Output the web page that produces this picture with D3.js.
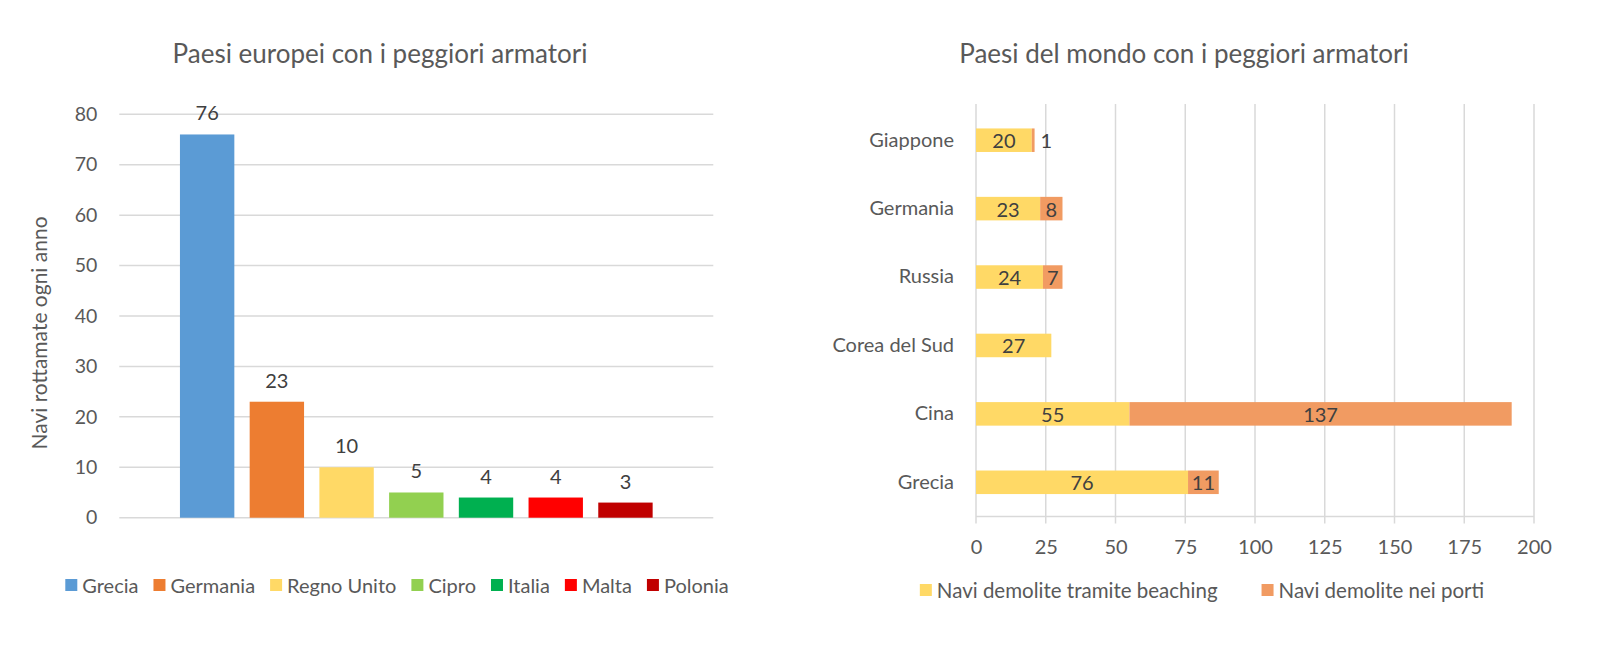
<!DOCTYPE html>
<html>
<head>
<meta charset="utf-8">
<script src="https://cdn.jsdelivr.net/npm/d3@7"></script>
<style>
  html, body { margin: 0; padding: 0; background: #ffffff; }
  svg { display: block; font-family: Lato, "Open Sans", sans-serif; }
</style>
</head>
<body>
<svg id="chart" width="1600" height="650"></svg>
<script>
// ---------- Data: left chart ----------
const euTitle = "Paesi europei con i peggiori armatori";
const euAxisTitle = "Navi rottamate ogni anno";
const euCountries = ["Grecia", "Germania", "Regno Unito", "Cipro", "Italia", "Malta", "Polonia"];
const euValues = [76, 23, 10, 5, 4, 4, 3];
const euColors = ["#5B9BD5", "#ED7D31", "#FFD966", "#92D050", "#00B050", "#FF0000", "#C00000"];
const euTicks = [0, 10, 20, 30, 40, 50, 60, 70, 80];

// ---------- Data: right chart ----------
const wTitle = "Paesi del mondo con i peggiori armatori";
const wCountries = ["Giappone", "Germania", "Russia", "Corea del Sud", "Cina", "Grecia"];
const wBeaching = [20, 23, 24, 27, 55, 76];
const wPorti = [1, 8, 7, 0, 137, 11];
const wSeriesNames = ["Navi demolite tramite beaching", "Navi demolite nei porti"];
const wColors = ["#FFD966", "#F19B62"];
const wTicks = [0, 25, 50, 75, 100, 125, 150, 175, 200];

const svg = d3.select("#chart");
const textColor = "#595959";
const labelColor = "#404040";
const gridColor = "#D9D9D9";

// ================= LEFT CHART =================
const L = { x0: 119.3, x1: 713.3, y0: 517.7, y1: 114.3 };
const ly = d3.scaleLinear().domain([0, 80]).range([L.y0, L.y1]);
const lx = d3.scaleBand().domain(euCountries).range([L.x0, L.x1])
  .paddingInner(0.22).paddingOuter(0.87);

const gL = svg.append("g");
gL.append("text").attr("x", 380).attr("y", 53)
  .attr("text-anchor", "middle").attr("dominant-baseline", "central")
  .attr("fill", textColor).style("font-size", "26px").text(euTitle);

// grid
gL.append("g").selectAll("line").data(euTicks).join("line")
  .attr("x1", L.x0).attr("x2", L.x1)
  .attr("y1", d => ly(d)).attr("y2", d => ly(d))
  .attr("stroke", gridColor).attr("stroke-width", 1.5);

// y axis labels
const yAxisL = d3.axisLeft(ly).tickValues(euTicks).tickSize(0).tickPadding(0);
const gyL = gL.append("g").attr("transform", `translate(${L.x0 - 22},0)`).call(yAxisL);
gyL.select(".domain").remove();
gyL.selectAll("text").attr("fill", textColor).style("font-size", "19.5px")
  .style("font-family", "Lato, sans-serif");

// axis title
gL.append("text").attr("transform", `translate(38,333) rotate(-90)`)
  .attr("text-anchor", "middle").attr("dominant-baseline", "central")
  .attr("fill", textColor).style("font-size", "21px").text(euAxisTitle);

// bars
gL.append("g").selectAll("rect").data(euCountries).join("rect")
  .attr("x", d => lx(d)).attr("width", lx.bandwidth())
  .attr("y", (d, i) => ly(euValues[i]))
  .attr("height", (d, i) => ly(0) - ly(euValues[i]))
  .attr("fill", (d, i) => euColors[i]);

// data labels
gL.append("g").selectAll("text").data(euCountries).join("text")
  .attr("x", d => lx(d) + lx.bandwidth() / 2)
  .attr("y", (d, i) => ly(euValues[i]) - 22)
  .attr("text-anchor", "middle").attr("dominant-baseline", "central")
  .attr("fill", labelColor).style("font-size", "20px")
  .text((d, i) => euValues[i]);

// legend helper
function drawLegend(g, names, colors, centerX, cy, itemGap, fontSize) {
  const lg = g.append("g");
  const items = names.map((n, i) => {
    const it = lg.append("g");
    it.append("rect").attr("width", 12).attr("height", 12).attr("y", -6).attr("fill", colors[i]);
    const t = it.append("text").attr("x", 17).attr("dominant-baseline", "central")
      .attr("fill", textColor).style("font-size", fontSize + "px").text(n);
    return { it, w: 17 + t.node().getComputedTextLength() };
  });
  const total = d3.sum(items, d => d.w) + itemGap * (items.length - 1);
  let x = centerX - total / 2;
  items.forEach(d => { d.it.attr("transform", `translate(${x},${cy})`); x += d.w + itemGap; });
}
drawLegend(gL, euCountries, euColors, 397, 585, 15, 20);

// ================= RIGHT CHART =================
const R = { x0: 976, x1: 1534, y0: 106, y1: 516.5 };
const rx = d3.scaleLinear().domain([0, 200]).range([R.x0, R.x1]);
const ry = d3.scaleBand().domain(wCountries).range([R.y0, R.y1])
  .paddingInner(0.656).paddingOuter(0.328);

const gR = svg.append("g");
gR.append("text").attr("x", 1184).attr("y", 53)
  .attr("text-anchor", "middle").attr("dominant-baseline", "central")
  .attr("fill", textColor).style("font-size", "26px").text(wTitle);

// vertical grid
gR.append("g").selectAll("line").data(wTicks).join("line")
  .attr("x1", d => rx(d)).attr("x2", d => rx(d))
  .attr("y1", 104).attr("y2", R.y1 + 7)
  .attr("stroke", gridColor).attr("stroke-width", 1.5);
// baseline
gR.append("line").attr("x1", R.x0).attr("x2", R.x1).attr("y1", R.y1).attr("y2", R.y1)
  .attr("stroke", gridColor).attr("stroke-width", 1.5);

// x axis labels
const xAxisR = d3.axisBottom(rx).tickValues(wTicks).tickSize(0).tickPadding(0);
const gxR = gR.append("g").attr("transform", `translate(0,${R.y1 + 29})`).call(xAxisR);
gxR.select(".domain").remove();
gxR.selectAll("text").attr("fill", textColor).attr("dy", null)
  .attr("dominant-baseline", "central").style("font-size", "20px")
  .style("font-family", "Lato, sans-serif");

// y axis labels
const yAxisR = d3.axisLeft(ry).tickSize(0).tickPadding(0);
const gyR = gR.append("g").attr("transform", `translate(${R.x0 - 22},0)`).call(yAxisR);
gyR.select(".domain").remove();
gyR.selectAll("text").attr("fill", textColor).style("font-size", "20px")
  .style("font-family", "Lato, sans-serif");

// stacked bars
const rows = wCountries.map((c, i) => ({ c, a: wBeaching[i], b: wPorti[i] }));
const stack = d3.stack().keys(["a", "b"])(rows);
stack.forEach((layer, si) => {
  const lg = gR.append("g");
  lg.selectAll("rect").data(layer.filter(d => d[1] - d[0] > 0)).join("rect")
    .attr("x", d => rx(d[0])).attr("width", d => rx(d[1]) - rx(d[0]))
    .attr("y", d => ry(d.data.c)).attr("height", ry.bandwidth())
    .attr("fill", wColors[si]);
  lg.selectAll("text").data(layer.filter(d => d[1] - d[0] > 0)).join("text")
    .attr("y", d => ry(d.data.c) + ry.bandwidth() / 2)
    .attr("dominant-baseline", "central").attr("text-anchor", "middle")
    .attr("fill", labelColor).style("font-size", "20px")
    .text(d => d[1] - d[0])
    .each(function (d) {
      const w = this.getComputedTextLength();
      const segW = rx(d[1]) - rx(d[0]);
      const cx = (rx(d[0]) + rx(d[1])) / 2;
      if (segW < w) d3.select(this).attr("x", rx(d[1]) + 6 + w / 2);
      else d3.select(this).attr("x", cx);
    });
});

drawLegend(gR, wSeriesNames, wColors, 1202, 590, 44, 20.5);
</script>
</body>
</html>
